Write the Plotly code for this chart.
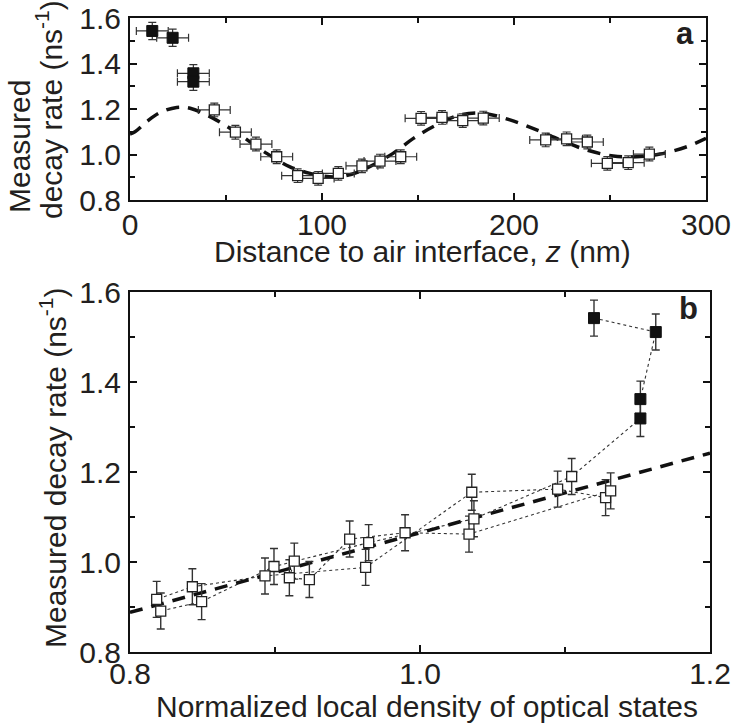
import plotly.graph_objects as go

# ---------------- Panel a data ----------------
z_filled = [11.6, 22.2, 33.0, 33.0]
rate_filled_a = [1.543, 1.513, 1.357, 1.320]
z_open = [43.9, 54.9, 65.6, 76.4, 87.3, 98.0, 108.5, 120.8, 130.2, 141.0,
          151.6, 162.5, 173.3, 184.0, 216.5, 227.4, 238.2, 248.6, 259.5, 270.5]
rate_open_a = [1.196, 1.098, 1.046, 0.990, 0.907, 0.895, 0.917, 0.950, 0.971, 0.990,
               1.159, 1.163, 1.149, 1.160, 1.064, 1.069, 1.055, 0.961, 0.964, 1.002]
z_err = 8.3
rate_err_filled_a = 0.038
rate_err_open_a = 0.030

curve_z = [0, 2.6, 8.7, 15.6, 24.3, 31.3, 43.4, 57.3, 71.2, 83.3, 93.8, 104, 112,
           121, 137, 147.6, 159.7, 171.9, 184, 197.9, 211.8, 224, 237.8, 251.7,
           263.9, 276, 290, 300]
curve_rate = [1.09, 1.100, 1.144, 1.184, 1.207, 1.203, 1.159, 1.086, 1.005, 0.946,
              0.917, 0.902, 0.906, 0.931, 1.005, 1.071, 1.130, 1.174, 1.181, 1.152,
              1.108, 1.064, 1.020, 0.993, 0.990, 1.002, 1.034, 1.071]

# ---------------- Panel b data ----------------
ldos_filled = [1.120, 1.1626, 1.152, 1.152]
rate_filled_b = [1.542, 1.511, 1.362, 1.319]
ldos_open = [1.1046, 1.0372, 0.9646, 0.8993, 0.8494, 0.8212, 0.8184, 0.843, 0.8931, 0.9625,
             1.0357, 1.0949, 1.128, 1.1315, 1.0338, 0.9897, 0.9515, 0.9237, 0.9099, 0.9133]
rate_open_b = [1.190, 1.096, 1.043, 0.990, 0.912, 0.891, 0.917, 0.945, 0.969, 0.988,
               1.155, 1.162, 1.143, 1.158, 1.062, 1.065, 1.051, 0.961, 0.965, 1.002]
rate_err_b = 0.04

fit_ldos = [0.8, 1.2]
fit_rate = [0.888, 1.242]

W, H = 733, 727
FONT = "Liberation Sans, Arial, sans-serif"
TXT = "#231f20"
ERR = "#333333"
FS = 30

def px_x(p):
    return p / W

def px_y(p):
    return 1 - p / H

fig = go.Figure()

dash_style = "13px,9px"

# Panel a
fig.add_trace(go.Scatter(x=curve_z, y=curve_rate, mode="lines", line=dict(color="#111", width=3.5, dash=dash_style, shape="spline"),
                         xaxis="x", yaxis="y", showlegend=False, hoverinfo="skip"))
fig.add_trace(go.Scatter(x=z_open, y=rate_open_a, mode="markers",
                         marker=dict(symbol="square", size=10, color="white", line=dict(color="#222", width=1.3)),
                         error_x=dict(type="constant", value=z_err, color=ERR, thickness=1.2, width=4),
                         error_y=dict(type="constant", value=rate_err_open_a, color=ERR, thickness=1.2, width=4),
                         xaxis="x", yaxis="y", showlegend=False))
fig.add_trace(go.Scatter(x=z_filled, y=rate_filled_a, mode="markers",
                         marker=dict(symbol="square", size=11, color="#111", line=dict(color="#111", width=1)),
                         error_x=dict(type="constant", value=z_err, color=ERR, thickness=1.2, width=4),
                         error_y=dict(type="constant", value=rate_err_filled_a, color=ERR, thickness=1.2, width=4),
                         xaxis="x", yaxis="y", showlegend=False))

# Panel b
fig.add_trace(go.Scatter(x=ldos_filled + ldos_open, y=rate_filled_b + rate_open_b, mode="lines",
                         line=dict(color="#333", width=1.1, dash="dot"),
                         xaxis="x2", yaxis="y2", showlegend=False, hoverinfo="skip"))
fig.add_trace(go.Scatter(x=fit_ldos, y=fit_rate, mode="lines", line=dict(color="#111", width=3.5, dash=dash_style),
                         xaxis="x2", yaxis="y2", showlegend=False, hoverinfo="skip"))
fig.add_trace(go.Scatter(x=ldos_open, y=rate_open_b, mode="markers",
                         marker=dict(symbol="square", size=10, color="white", line=dict(color="#222", width=1.3)),
                         error_y=dict(type="constant", value=rate_err_b, color=ERR, thickness=1.4, width=4),
                         xaxis="x2", yaxis="y2", showlegend=False))
fig.add_trace(go.Scatter(x=ldos_filled, y=rate_filled_b, mode="markers",
                         marker=dict(symbol="square", size=11, color="#111", line=dict(color="#111", width=1)),
                         error_y=dict(type="constant", value=rate_err_b, color=ERR, thickness=1.4, width=4),
                         xaxis="x2", yaxis="y2", showlegend=False))

axis_common = dict(showline=True, linewidth=2, linecolor="#111", mirror="ticks", showgrid=False, zeroline=False,
                   ticks="inside", ticklen=7, tickwidth=1.5, tickcolor="#111", automargin=False,
                   tickfont=dict(family=FONT, size=FS, color=TXT))

fig.update_layout(
    width=W, height=H, margin=dict(l=0, r=0, t=0, b=0, autoexpand=False),
    paper_bgcolor="white", plot_bgcolor="white",
    xaxis=dict(domain=[px_x(130), px_x(706)], range=[0, 300], tickvals=[0, 100, 200, 300],
               minor=dict(ticks="inside", tickvals=[50, 150, 250], ticklen=5, tickwidth=1.5, tickcolor="#111"),
               anchor="y", ticklabelstandoff=-3, **axis_common),
    yaxis=dict(domain=[px_y(200), px_y(18)], range=[0.8, 1.6], tickvals=[0.8, 1.0, 1.2, 1.4, 1.6], tickformat=".1f",
               minor=dict(ticks="inside", tickvals=[0.9, 1.1, 1.3, 1.5], ticklen=5, tickwidth=1.5, tickcolor="#111"),
               anchor="x", ticklabelstandoff=1, **axis_common),
    xaxis2=dict(domain=[px_x(130), px_x(710)], range=[0.8, 1.2], tickvals=[0.8, 1.0, 1.2], tickformat=".1f",
                minor=dict(ticks="inside", tickvals=[0.9, 1.1], ticklen=5, tickwidth=1.5, tickcolor="#111"),
                anchor="y2", ticklabelstandoff=-6, **axis_common),
    yaxis2=dict(domain=[px_y(652), px_y(292)], range=[0.8, 1.6], tickvals=[0.8, 1.0, 1.2, 1.4, 1.6], tickformat=".1f",
                minor=dict(ticks="inside", tickvals=[0.9, 1.1, 1.3, 1.5], ticklen=5, tickwidth=1.5, tickcolor="#111"),
                anchor="x2", ticklabelstandoff=1, **axis_common),
)

title_font = dict(family=FONT, size=FS, color=TXT)
annotations = [
    dict(text="Measured", x=px_x(19), y=px_y(147), textangle=-90,
         xref="paper", yref="paper", showarrow=False, font=title_font, xanchor="center", yanchor="middle"),
    dict(text="decay rate (ns<sup>-1</sup>)", x=px_x(49), y=px_y(110), textangle=-90,
         xref="paper", yref="paper", showarrow=False, font=title_font, xanchor="center", yanchor="middle"),
    dict(text="Distance to air interface, <i>z</i> (nm)", x=px_x(422), y=px_y(251),
         xref="paper", yref="paper", showarrow=False, font=title_font, xanchor="center", yanchor="middle"),
    dict(text="Measured decay rate (ns<sup>-1</sup>)", x=px_x(53), y=px_y(468), textangle=-90,
         xref="paper", yref="paper", showarrow=False, font=title_font, xanchor="center", yanchor="middle"),
    dict(text="Normalized local density of optical states", x=px_x(427), y=px_y(706),
         xref="paper", yref="paper", showarrow=False, font=title_font, xanchor="center", yanchor="middle"),
    dict(text="<b>a</b>", x=px_x(685), y=px_y(33), xref="paper", yref="paper", showarrow=False,
         font=dict(family=FONT, size=31, color=TXT), xanchor="center", yanchor="middle"),
    dict(text="<b>b</b>", x=px_x(688), y=px_y(308), xref="paper", yref="paper", showarrow=False,
         font=dict(family=FONT, size=31, color=TXT), xanchor="center", yanchor="middle"),
]
fig.update_layout(annotations=annotations)

fig.write_html("out.html")
